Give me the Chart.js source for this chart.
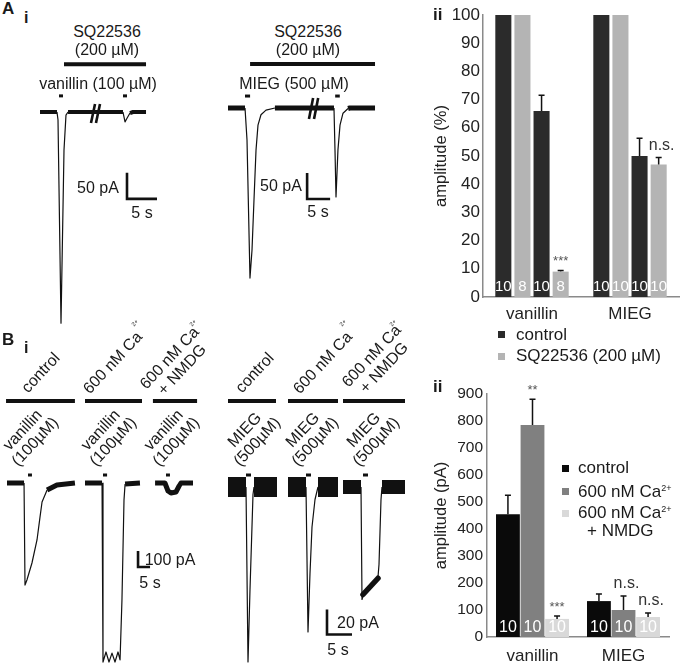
<!DOCTYPE html>
<html>
<head>
<meta charset="utf-8">
<script src="https://cdn.jsdelivr.net/npm/chart.js@4.4.1/dist/chart.umd.min.js"></script>
<style>
  html, body { margin: 0; padding: 0; background: #fff; }
  body { width: 680px; height: 667px; position: relative; overflow: hidden; font-family: "Liberation Sans", Arial, sans-serif; color: #1a1a1a; }
  canvas { position: absolute; }
  .t { position: absolute; white-space: nowrap; font-size: 16px; line-height: 1.1; }
  .c { transform: translate(-50%, -50%); text-align: center; }
  .l { transform: translate(0, -50%); }
  .r { transform: translate(-50%, -50%) rotate(-47deg); text-align: center; line-height: 1.05; }
  .b { font-weight: bold; }
  .sq { position: absolute; width: 7px; height: 7px; }
  sup { font-size: 9px; vertical-align: 6px; line-height: 0; }
</style>
</head>
<body>
<canvas id="trA1"></canvas>
<canvas id="trA2"></canvas>
<canvas id="trB1"></canvas>
<canvas id="trB2"></canvas>
<canvas id="barA" width="250" height="325" style="left:430px;top:0px"></canvas>
<canvas id="barB" width="250" height="287" style="left:430px;top:380px"></canvas>

<script>
// ---- bar charts ----
const groups = ['vanillin', 'MIEG'];

// A ii: amplitude in % (first / second application)
const ctrlFirst = [100, 100];
const sqFirst = [100, 100];
const ctrlSecond = [66, 50];
const sqSecond = [9, 47];
const ctrlSecondErr = [5.5, 6.3];
const sqSecondErr = [0.4, 2.5];
const nCtrlA = [10, 10];
const nSqA = [8, 10];
const marksA = [[3, 0, '***'], [3, 1, 'n.s.']];

// B ii: amplitude in pA
const ctrlPA = [455, 133];
const caPA = [785, 100];
const nmdgPA = [67, 74];
const ctrlPAErr = [70, 26];
const caPAErr = [96, 52];
const nmdgPAErr = [11, 15];
const nB = [10, 10];
const marksB = [[1, 0, '**'], [2, 0, '***'], [1, 1, 'n.s.'], [2, 1, 'n.s.']];

// ---- traces: [time (s), current (pA)] ----
const vanA = [[0,0],[2.83,0],[3.0,-15],[3.5,-406],[4.0,-73],[4.33,-6],[4.67,0],[13.83,0],[14.17,-19],[14.5,-12],[15,-2],[15.5,0],[17.67,0]];
const vanAPuffs = [[3.17, 3.83], [13.83, 14.5]];
const sqOnVan = [[4.0, 17.67]];
const miegA = [[0,0],[3.7,0],[4.13,-61],[4.78,-327],[5.22,-273],[5.65,-177],[6.09,-81],[6.52,-33],[7.17,-13],[8.26,-4],[10.2,0],[23.04,0],[23.26,-81],[23.48,-171],[23.9,-81],[24.35,-33],[25.0,-10],[26.1,-1],[26.5,0],[31.96,0]];
const miegAPuffs = [[3.7, 4.8], [23.3, 24.3]];
const sqOnMieg = [[4.8, 31.96]];

const vanCtrlB = [[0,0],[7.1,0],[7.5,-638],[8.3,-606],[10.4,-500],[12.5,-356],[13.75,-213],[14.6,-119],[16.7,-44],[20.8,-12],[28.3,0]];
const vanCaB = [[32.5,0],[39.6,0],[40,-1119],[41.25,-1056],[42.5,-1119],[43.75,-1063],[45,-1119],[46.25,-1056],[47.1,-1106],[47.9,-731],[48.75,-106],[49.2,-6],[55.4,0]];
const vanNmdgB = [[61.7,0],[65.8,0],[67.1,-50],[68.3,-62],[70.4,-56],[71.7,-19],[72.5,0],[77.5,0]];
const vanBPuffs = [[8.75, 10.4], [40, 41.7], [66.25, 67.9]];
const vanBConds = [[-0.4, 28.3], [32.5, 56.25], [60.8, 79.2]];

const miegCtrlB = [[0,0],[3.6,0],[4,-140],[4.4,-82],[5,-6],[5.2,0],[9.8,0]];
const miegCaB = [[12,0],[15.6,0],[16,-116],[16.4,-69],[16.8,-32],[17.4,-10],[18,0],[22,0]];
const miegNmdgB = [[23,0],[26.6,0],[26.8,-90],[27.2,-84],[30,-72],[30.2,-62],[30.6,-10],[30.8,0],[35.4,0]];
const miegNmdgPlateau = [[27.0,-86],[30,-73]];
const miegBPuffs = [[3.6, 4.6], [15.6, 16.6], [27, 28]];
const miegBConds = [[0, 9.6], [12, 22], [23, 35.4]];

const ink = '#111';
Chart.defaults.font.family = '"Liberation Sans", Arial, sans-serif';
Chart.defaults.color = '#222';

function lineSet(data, width, extra) {
  return Object.assign({
    data, showLine: true, borderColor: ink, borderWidth: width,
    pointRadius: 0, borderCapStyle: 'butt', borderJoinStyle: 'miter'
  }, extra);
}

// thin trace, thick (noisy) where it sits on the baseline
function traceSet(data, band, limit) {
  return lineSet(data, 1.2, {
    borderJoinStyle: 'round',
    segment: {
      borderWidth: c => (Math.abs(c.p0.parsed.y) < limit && Math.abs(c.p1.parsed.y) < limit) ? band : 1.2
    }
  });
}

function spans(list, level, width) {
  return list.map(s => lineSet([[s[0], level], [s[1], level]], width));
}

function scaleBar(t, top, pA, sec) {
  return lineSet([[t, top], [t, top - pA], [t + sec, top - pA]], 2.6);
}

function traceChart(id, box, cal, sets) {
  const cv = document.getElementById(id);
  cv.width = box.w; cv.height = box.h;
  cv.style.left = box.x + 'px'; cv.style.top = box.y + 'px';
  return new Chart(cv, {
    type: 'scatter',
    data: { datasets: sets },
    options: {
      responsive: false, animation: false, events: [],
      layout: { padding: 0 },
      scales: {
        x: { type: 'linear', display: false, min: (box.x - cal.x0) / cal.pxS, max: (box.x + box.w - cal.x0) / cal.pxS },
        y: { type: 'linear', display: false, min: (cal.y0 - box.y - box.h) / cal.pxA, max: (cal.y0 - box.y) / cal.pxA }
      },
      plugins: { legend: { display: false }, tooltip: { enabled: false } }
    }
  });
}

// A i, vanillin
traceChart('trA1', { x: 30, y: 55, w: 140, h: 280 }, { x0: 40, y0: 112, pxS: 6, pxA: 0.52 }, [
  traceSet(vanA, 4, 3),
  lineSet([[8.5,-21],[9.17,15.4]], 2.6),
  lineSet([[9.33,-21],[10,15.4]], 2.6),
  lineSet([[8.92,-24],[9.58,18]], 2, { borderColor: '#fff' }),
  ...spans(vanAPuffs, 31, 3),
  ...spans(sqOnVan, 92, 4),
  scaleBar(14.5, -117, 50, 5)
]);

// A i, MIEG
traceChart('trA2', { x: 215, y: 55, w: 170, h: 280 }, { x0: 228, y0: 108, pxS: 4.6, pxA: 0.52 }, [
  traceSet(miegA, 5, 3),
  lineSet([[17.6,-21],[18.5,19]], 2.6),
  lineSet([[18.7,-21],[19.6,19]], 2.6),
  lineSet([[18.15,-24],[19.05,22]], 2, { borderColor: '#fff' }),
  ...spans(miegAPuffs, 23, 3),
  ...spans(sqOnMieg, 84.6, 4),
  scaleBar(17.2, -125, 50, 5)
]);

// B i, vanillin
traceChart('trB1', { x: 0, y: 395, w: 215, h: 272 }, { x0: 7, y0: 483, pxS: 2.4, pxA: 0.16 }, [
  traceSet(vanCtrlB, 5, 70),
  traceSet(vanCaB, 5, 70),
  traceSet(vanNmdgB, 5, 70),
  ...spans(vanBPuffs, 50, 3),
  ...spans(vanBConds, 512, 4),
  scaleBar(54.6, -425, 100, 5)
]);

// B i, MIEG
traceChart('trB2', { x: 215, y: 395, w: 215, h: 272 }, { x0: 228, y0: 487, pxS: 5, pxA: 1.25 }, [
  traceSet(miegCtrlB, 20, 3),
  traceSet(miegCaB, 20, 3),
  traceSet(miegNmdgB, 14, 3),
  lineSet(miegNmdgPlateau, 5.5, { borderCapStyle: 'round' }),
  ...spans(miegBPuffs, 9.6, 3),
  ...spans(miegBConds, 68.8, 4),
  scaleBar(19.8, -98, 20, 5)
]);

// error bars, n inside bars, significance
const barExtras = {
  id: 'barExtras',
  afterDatasetsDraw(chart, args, opts) {
    const ctx = chart.ctx;
    const y = chart.scales.y;
    ctx.save();
    ctx.textAlign = 'center';
    ctx.textBaseline = 'middle';
    chart.data.datasets.forEach((ds, di) => {
      chart.getDatasetMeta(di).data.forEach((el, i) => {
        if (ds.err) {
          const top = y.getPixelForValue(ds.data[i] + ds.err[i]);
          ctx.strokeStyle = ink;
          ctx.lineWidth = 1.5;
          ctx.beginPath();
          ctx.moveTo(el.x, el.y); ctx.lineTo(el.x, top);
          ctx.moveTo(el.x - 3, top); ctx.lineTo(el.x + 3, top);
          ctx.stroke();
        }
        if (ds.n) {
          ctx.fillStyle = '#fff';
          ctx.font = opts.nFont;
          ctx.fillText(String(ds.n[i]), el.x, el.base - opts.nLift);
        }
      });
    });
    opts.marks.forEach(([di, i, txt]) => {
      const ds = chart.data.datasets[di];
      const el = chart.getDatasetMeta(di).data[i];
      const top = y.getPixelForValue(ds.data[i] + (ds.err ? ds.err[i] : 0));
      const star = txt.indexOf('*') === 0;
      ctx.fillStyle = star ? '#555' : '#333';
      ctx.font = (star ? 13 : 16) + 'px "Liberation Sans", Arial, sans-serif';
      ctx.fillText(txt, el.x + (star ? 0 : 3), top - (star ? 9 : 12));
    });
    ctx.restore();
  }
};

function axisOpts(extra) {
  return Object.assign({
    grid: { display: false, drawTicks: false },
    border: { color: '#8a8a8a', width: 1.5 }
  }, extra);
}

new Chart(document.getElementById('barA'), {
  type: 'bar',
  data: {
    labels: groups,
    datasets: [
      { label: 'control', data: ctrlFirst, backgroundColor: '#2b2b2b', n: nCtrlA },
      { label: 'SQ22536 (200 µM)', data: sqFirst, backgroundColor: '#b4b4b4', n: nSqA },
      { label: 'control', data: ctrlSecond, err: ctrlSecondErr, backgroundColor: '#2b2b2b', n: nCtrlA },
      { label: 'SQ22536 (200 µM)', data: sqSecond, err: sqSecondErr, backgroundColor: '#b4b4b4', n: nSqA }
    ]
  },
  options: {
    responsive: false, animation: false, events: [],
    layout: { padding: { top: 15, right: 1, left: 0, bottom: 0 } },
    datasets: { bar: { categoryPercentage: 0.78, barPercentage: 0.84 } },
    scales: {
      x: axisOpts({ ticks: { font: { size: 17 }, padding: 7 }, afterFit(s) { s.height = 28; } }),
      y: axisOpts({
        min: 0, max: 100,
        ticks: { stepSize: 10, font: { size: 17 }, padding: 3 },
        title: { display: true, text: 'amplitude (%)', font: { size: 16.5 }, padding: { top: 2, bottom: 0 } },
        afterFit(s) { s.width = 53; }
      })
    },
    plugins: {
      legend: { display: false }, tooltip: { enabled: false },
      barExtras: { nFont: '15px "Liberation Sans", Arial, sans-serif', nLift: 10, marks: marksA }
    }
  },
  plugins: [barExtras]
});

new Chart(document.getElementById('barB'), {
  type: 'bar',
  data: {
    labels: groups,
    datasets: [
      { label: 'control', data: ctrlPA, err: ctrlPAErr, backgroundColor: '#0a0a0a', n: nB },
      { label: '600 nM Ca2+', data: caPA, err: caPAErr, backgroundColor: '#808080', n: nB },
      { label: '600 nM Ca2+ + NMDG', data: nmdgPA, err: nmdgPAErr, backgroundColor: '#d9d9d9', n: nB }
    ]
  },
  options: {
    responsive: false, animation: false, events: [],
    layout: { padding: { top: 14, right: 11, left: 0, bottom: 0 } },
    datasets: { bar: { categoryPercentage: 0.81, barPercentage: 0.97 } },
    scales: {
      x: axisOpts({ ticks: { font: { size: 17 }, padding: 9 }, afterFit(s) { s.height = 30; } }),
      y: axisOpts({
        min: 0, max: 900,
        ticks: { stepSize: 100, font: { size: 15.5 }, padding: 4 },
        title: { display: true, text: 'amplitude (pA)', font: { size: 16.5 }, padding: { top: 2, bottom: 0 } },
        afterFit(s) { s.width = 57; }
      })
    },
    plugins: {
      legend: { display: false }, tooltip: { enabled: false },
      barExtras: { nFont: '16px "Liberation Sans", Arial, sans-serif', nLift: 9, marks: marksB }
    }
  },
  plugins: [barExtras]
});

// ---- text ----
function put(html, x, y, cls, size) {
  const d = document.createElement('div');
  d.className = 't ' + (cls || 'c');
  d.innerHTML = html;
  d.style.left = x + 'px';
  d.style.top = y + 'px';
  if (size) d.style.fontSize = size + 'px';
  document.body.appendChild(d);
}
function swatch(x, y, color) {
  const d = document.createElement('div');
  d.className = 'sq';
  d.style.left = x + 'px'; d.style.top = y + 'px'; d.style.background = color;
  document.body.appendChild(d);
}

put('A', 2, 0, 'b', 17);
put('i', 24, 9, 'b', 16);
put('SQ22536', 107, 32);
put('(200 µM)', 107, 50);
put('vanillin (100 µM)', 98, 84);
put('50 pA', 98, 188);
put('5 s', 142, 213);
put('SQ22536', 308, 32);
put('(200 µM)', 308, 50);
put('MIEG (500 µM)', 294, 84);
put('50 pA', 281, 186);
put('5 s', 318, 212);
[135, 193, 343, 393].forEach(x => put('2+', x, 323, 'r', 6));

put('B', 2, 331, 'b', 17);
put('i', 24, 339, 'b', 16);
put('control', 41, 373, 'r');
put('600 nM Ca', 113, 363, 'r');
put('600 nM Ca<br>+ NMDG', 176, 364, 'r');
put('control', 255, 373, 'r');
put('600 nM Ca', 323, 363, 'r');
put('600 nM Ca<br>+ NMDG', 378, 362, 'r');
[29, 107, 170].forEach(x => put('vanillin<br>(100µM)', x, 436, 'r'));
[251, 309, 370].forEach(x => put('MIEG<br>(500µM)', x, 436, 'r'));
put('100 pA', 170, 560);
put('5 s', 150, 583);
put('20 pA', 358, 623);
put('5 s', 338, 650);

put('ii', 433, 6, 'b', 17);
swatch(498, 331, '#2b2b2b');
put('control', 516, 335, 'l', 17);
swatch(498, 353, '#b4b4b4');
put('SQ22536 (200 µM)', 516, 356, 'l', 17);

put('ii', 433, 378, 'b', 17);
swatch(562, 465, '#0a0a0a');
put('control', 578, 468, 'l', 17);
swatch(562, 488, '#808080');
put('600 nM Ca<sup>2+</sup>', 578, 492, 'l', 17);
swatch(562, 510, '#d9d9d9');
put('600 nM Ca<sup>2+</sup>', 578, 513, 'l', 17);
put('+ NMDG', 587, 531, 'l', 17);
</script>
</body>
</html>
